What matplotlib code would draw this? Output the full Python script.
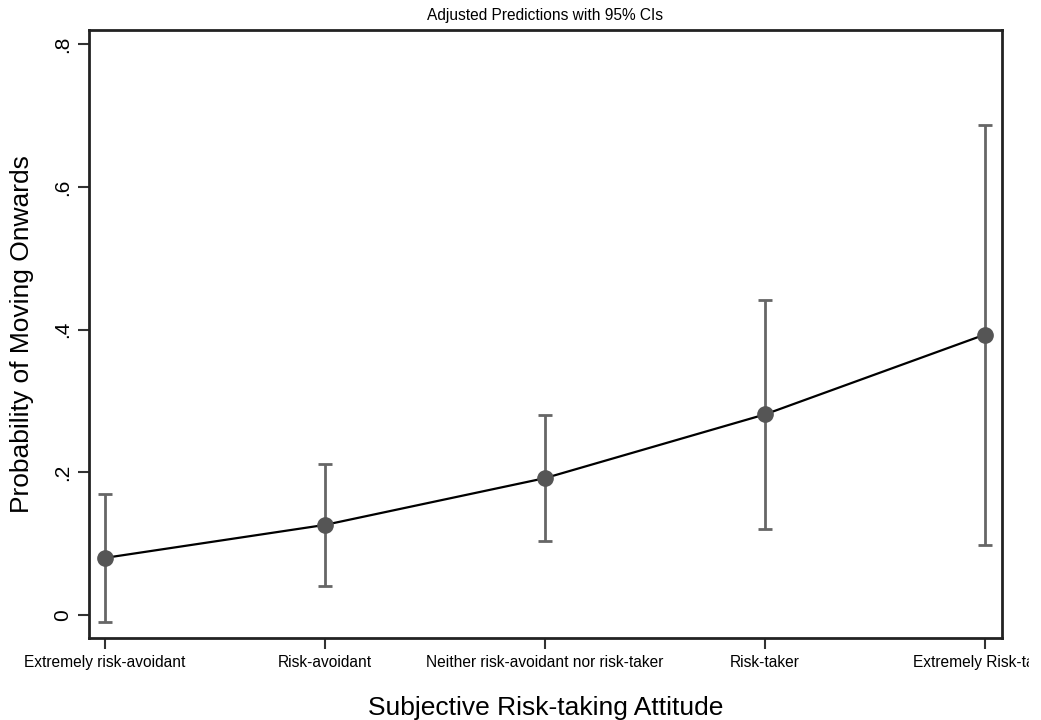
import matplotlib.pyplot as plt
from matplotlib.patches import Rectangle

plt.rcParams['font.family'] = ['Liberation Sans', 'DejaVu Sans']

categories = ['Extremely risk-avoidant', 'Risk-avoidant', 'Neither risk-avoidant nor risk-taker',
              'Risk-taker', 'Extremely Risk-taker']
levels = [1, 2, 3, 4, 5]
margin = [0.0797, 0.126, 0.1916, 0.281, 0.393]
ci_low = [-0.0098, 0.0406, 0.1035, 0.120, 0.098]
ci_high = [0.169, 0.211, 0.280, 0.442, 0.687]

fig = plt.figure(figsize=(10.41, 7.2), dpi=100)
ax = fig.add_axes([89 / 1041, 1 - 638 / 720, (1001.5 - 89) / 1041, (638 - 29.5) / 720])

err = [[m - lo for m, lo in zip(margin, ci_low)], [hi - m for m, hi in zip(margin, ci_high)]]
ax.errorbar(levels, margin, yerr=err, fmt='none', ecolor='#666666', elinewidth=2,
            capsize=5, capthick=2, zorder=2)
ax.plot(levels, margin, color='black', lw=1.6, zorder=3)
ax.plot(levels, margin, 'o', color='#555555', ms=11, zorder=4)

ax.set_xlim(0.927, 5.075)
ax.set_ylim(-0.0327, 0.821)
ax.set_xticks(levels)
ax.set_xticklabels(categories, fontsize=11.2)
ax.set_yticks([0, 0.2, 0.4, 0.6, 0.8])
ax.set_yticklabels(['0', '.2', '.4', '.6', '.8'], fontsize=15, rotation=90, va='center')
ax.tick_params(length=8, width=1.5, color='#333333', pad=4)

for s in ax.spines.values():
    s.set_linewidth(2)
    s.set_color('#222222')

ax.set_title('Adjusted Predictions with 95% CIs', fontsize=11.2, pad=7)
ax.set_xlabel('Subjective Risk-taking Attitude', fontsize=19, labelpad=19)
ax.set_ylabel('Probability of Moving Onwards', fontsize=19, labelpad=14)

# the source image is cropped at the right edge
fig.add_artist(Rectangle((1029 / 1041, 0), 12 / 1041, 1, transform=fig.transFigure,
                         color='white', zorder=10))

fig.savefig('out.png', dpi=100)
